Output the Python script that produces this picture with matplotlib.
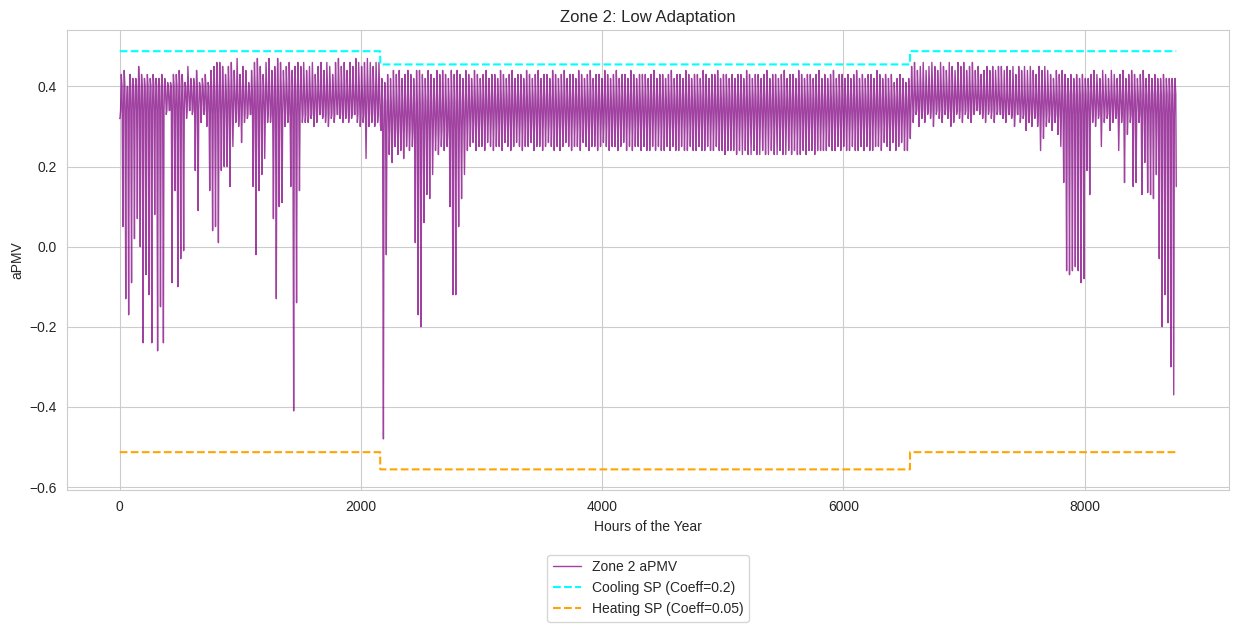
import numpy as np
import matplotlib
matplotlib.use("Agg")
import matplotlib.pyplot as plt
import seaborn as sns

# ---------------- Data ----------------
month_days = [31, 28, 31, 30, 31, 30, 31, 31, 30, 31, 30, 31]

# daily minimum of Zone 2 aPMV, one list per month
dip_jan = [0.32, 0.05, -0.13, -0.17, -0.09, 0.02, 0.07, 0.00, -0.24, -0.07, -0.12,
           -0.24, 0.08, -0.26, -0.15, -0.24, 0.33, 0.34, -0.09, 0.14, -0.10, -0.03,
           -0.01, 0.32, 0.34, 0.33, 0.19, 0.09, 0.31, 0.33, 0.30]
dip_feb = [0.14, 0.04, 0.05, 0.01, 0.19, 0.20, 0.20, 0.15, 0.25, 0.31, 0.30, 0.26,
           0.31, 0.32, 0.33, 0.15, -0.02, 0.14, 0.18, 0.22, 0.31, 0.31, 0.07, -0.13,
           0.10, 0.11, 0.30, 0.31]
dip_mar = [0.15, -0.41, -0.14, 0.14, 0.31, 0.31, 0.31, 0.32, 0.30, 0.31, 0.33, 0.32,
           0.31, 0.30, 0.32, 0.31, 0.33, 0.32, 0.31, 0.32, 0.31, 0.32, 0.33, 0.31,
           0.30, 0.31, 0.22, 0.30, 0.31, 0.30, 0.31]
dip_apr = [0.30, -0.48, -0.02, 0.23, 0.21, 0.25, 0.23, 0.24, 0.22, 0.25, 0.24, 0.25,
           0.01, -0.17, -0.20, 0.06, 0.13, 0.12, 0.18, 0.24, 0.23, 0.25, 0.24, 0.25,
           0.10, -0.12, -0.12, 0.05, 0.12, 0.18]
dip_may = [0.24, 0.25, 0.26, 0.24, 0.25, 0.25, 0.24, 0.26, 0.25, 0.24, 0.25, 0.25,
           0.24, 0.26, 0.25, 0.24, 0.25, 0.26, 0.25, 0.24, 0.25, 0.25, 0.26, 0.24,
           0.25, 0.25, 0.24, 0.25, 0.26, 0.25, 0.24]
dip_jun = [0.25, 0.24, 0.25, 0.26, 0.25, 0.24, 0.25, 0.25, 0.24, 0.26, 0.25, 0.24,
           0.25, 0.25, 0.24, 0.25, 0.26, 0.25, 0.24, 0.25, 0.25, 0.24, 0.25, 0.26,
           0.24, 0.25, 0.24, 0.25, 0.25, 0.24]
dip_jul = [0.25, 0.24, 0.24, 0.25, 0.24, 0.25, 0.24, 0.24, 0.25, 0.24, 0.25, 0.24,
           0.24, 0.25, 0.24, 0.24, 0.25, 0.24, 0.24, 0.25, 0.24, 0.24, 0.25, 0.24,
           0.24, 0.25, 0.24, 0.24, 0.23, 0.24, 0.24]
dip_aug = [0.24, 0.23, 0.24, 0.23, 0.24, 0.23, 0.23, 0.24, 0.23, 0.23, 0.24, 0.23,
           0.23, 0.24, 0.23, 0.23, 0.24, 0.23, 0.23, 0.24, 0.23, 0.24, 0.23, 0.23,
           0.24, 0.23, 0.24, 0.24, 0.23, 0.24, 0.24]
dip_sep = [0.24, 0.24, 0.25, 0.24, 0.24, 0.25, 0.24, 0.25, 0.24, 0.24, 0.25, 0.24,
           0.24, 0.25, 0.24, 0.25, 0.24, 0.24, 0.25, 0.25, 0.24, 0.26, 0.25, 0.24,
           0.26, 0.24, 0.25, 0.26, 0.24, 0.24]
dip_oct = [0.27, 0.31, 0.33, 0.30, 0.32, 0.31, 0.33, 0.32, 0.30, 0.33, 0.32, 0.31,
           0.33, 0.32, 0.30, 0.31, 0.33, 0.32, 0.31, 0.33, 0.32, 0.31, 0.33, 0.34,
           0.33, 0.32, 0.31, 0.33, 0.32, 0.31, 0.33]
dip_nov = [0.33, 0.32, 0.31, 0.33, 0.32, 0.30, 0.33, 0.31, 0.32, 0.29, 0.31, 0.30,
           0.32, 0.30, 0.24, 0.27, 0.30, 0.31, 0.29, 0.31, 0.28, 0.25, 0.16, -0.06,
           -0.07, -0.06, -0.05, -0.06, -0.09, -0.08]
dip_dec = [0.19, 0.13, 0.31, 0.30, 0.32, 0.25, 0.31, 0.32, 0.29, 0.31, 0.32, 0.24,
           0.31, 0.16, 0.28, 0.31, 0.15, 0.16, 0.31, 0.13, 0.21, 0.135, 0.13, 0.12,
           0.18, -0.03, -0.20, -0.12, -0.19, -0.30, -0.37]

# daily maximum of Zone 2 aPMV, one list per month
peak_jan = [0.43, 0.44, 0.40, 0.43, 0.42, 0.42, 0.45, 0.43, 0.42, 0.43, 0.42, 0.43,
            0.42, 0.42, 0.43, 0.42, 0.41, 0.41, 0.43, 0.43, 0.44, 0.43, 0.41, 0.45,
            0.42, 0.42, 0.44, 0.41, 0.42, 0.43, 0.41]
peak_feb = [0.44, 0.45, 0.46, 0.46, 0.45, 0.43, 0.45, 0.46, 0.44, 0.47, 0.43, 0.45,
            0.44, 0.41, 0.44, 0.46, 0.47, 0.45, 0.43, 0.46, 0.47, 0.44, 0.45, 0.47,
            0.46, 0.44, 0.45, 0.46]
peak_mar = [0.44, 0.45, 0.46, 0.45, 0.46, 0.44, 0.45, 0.46, 0.43, 0.45, 0.46, 0.44,
            0.46, 0.45, 0.43, 0.46, 0.47, 0.45, 0.46, 0.44, 0.46, 0.45, 0.47, 0.46,
            0.45, 0.46, 0.47, 0.46, 0.45, 0.46, 0.46]
peak_apr = [0.42, 0.41, 0.43, 0.42, 0.44, 0.43, 0.44, 0.42, 0.43, 0.44, 0.43, 0.42,
            0.44, 0.44, 0.43, 0.42, 0.44, 0.43, 0.42, 0.44, 0.43, 0.44, 0.43, 0.42,
            0.44, 0.43, 0.44, 0.43, 0.42, 0.44]
peak_may = [0.43, 0.42, 0.44, 0.43, 0.42, 0.43, 0.44, 0.42, 0.43, 0.43, 0.42, 0.44,
            0.43, 0.42, 0.43, 0.44, 0.42, 0.43, 0.43, 0.42, 0.44, 0.43, 0.42, 0.43,
            0.44, 0.42, 0.43, 0.43, 0.42, 0.44, 0.43]
peak_jun = [0.42, 0.43, 0.44, 0.42, 0.43, 0.43, 0.42, 0.44, 0.43, 0.42, 0.43, 0.44,
            0.42, 0.43, 0.43, 0.42, 0.44, 0.43, 0.42, 0.43, 0.44, 0.42, 0.43, 0.43,
            0.42, 0.44, 0.43, 0.42, 0.43, 0.43]
peak_jul = [0.43, 0.42, 0.43, 0.44, 0.42, 0.43, 0.43, 0.42, 0.43, 0.44, 0.42, 0.43,
            0.43, 0.42, 0.44, 0.43, 0.42, 0.43, 0.43, 0.42, 0.44, 0.43, 0.42, 0.43,
            0.43, 0.44, 0.42, 0.43, 0.43, 0.42, 0.43]
peak_aug = [0.42, 0.43, 0.43, 0.42, 0.44, 0.43, 0.42, 0.43, 0.43, 0.42, 0.43, 0.44,
            0.42, 0.43, 0.43, 0.42, 0.43, 0.44, 0.42, 0.43, 0.43, 0.42, 0.44, 0.43,
            0.42, 0.43, 0.43, 0.42, 0.43, 0.44, 0.42]
peak_sep = [0.43, 0.42, 0.43, 0.44, 0.42, 0.43, 0.43, 0.42, 0.43, 0.42, 0.43, 0.44,
            0.42, 0.43, 0.42, 0.43, 0.43, 0.42, 0.44, 0.43, 0.42, 0.43, 0.42, 0.43,
            0.41, 0.42, 0.43, 0.42, 0.41, 0.42]
peak_oct = [0.45, 0.46, 0.44, 0.45, 0.46, 0.44, 0.45, 0.46, 0.45, 0.44, 0.46, 0.45,
            0.44, 0.46, 0.45, 0.44, 0.46, 0.45, 0.46, 0.44, 0.45, 0.46, 0.44, 0.45,
            0.43, 0.44, 0.45, 0.44, 0.45, 0.44, 0.45]
peak_nov = [0.45, 0.44, 0.45, 0.44, 0.45, 0.43, 0.45, 0.44, 0.45, 0.44, 0.45, 0.44,
            0.43, 0.45, 0.44, 0.45, 0.44, 0.43, 0.42, 0.44, 0.43, 0.44, 0.43, 0.42,
            0.43, 0.42, 0.43, 0.42, 0.43, 0.42]
peak_dec = [0.42, 0.43, 0.44, 0.43, 0.42, 0.44, 0.43, 0.42, 0.44, 0.43, 0.42, 0.43,
            0.44, 0.42, 0.43, 0.44, 0.43, 0.42, 0.43, 0.44, 0.42, 0.43, 0.42, 0.43,
            0.42, 0.42, 0.43, 0.42, 0.42, 0.42, 0.42]

# dense middle band of the daily cycle, per month
band_hi = [0.40, 0.39, 0.39, 0.36, 0.37, 0.37, 0.37, 0.37, 0.37, 0.39, 0.38, 0.38]
band_lo = [0.34, 0.33, 0.33, 0.29, 0.31, 0.31, 0.31, 0.31, 0.31, 0.34, 0.33, 0.33]

start_value = 0.32
end_value = 0.15

# setpoints per month
cooling_sp = [0.488, 0.488, 0.488, 0.455, 0.455, 0.455,
              0.455, 0.455, 0.455, 0.488, 0.488, 0.488]
heating_sp = [-0.513, -0.513, -0.513, -0.556, -0.556, -0.556,
              -0.556, -0.556, -0.556, -0.513, -0.513, -0.513]

# ---------------- Build series ----------------
daily_dip = np.array(dip_jan + dip_feb + dip_mar + dip_apr + dip_may + dip_jun +
                     dip_jul + dip_aug + dip_sep + dip_oct + dip_nov + dip_dec)
daily_peak = np.array(peak_jan + peak_feb + peak_mar + peak_apr + peak_may + peak_jun +
                      peak_jul + peak_aug + peak_sep + peak_oct + peak_nov + peak_dec)
band_hi_daily = np.repeat(band_hi, month_days)
band_lo_daily = np.repeat(band_lo, month_days)

# each day: night low, band, afternoon peak, band
days = np.arange(len(daily_dip))
hours = np.column_stack([days * 24 + 2, days * 24 + 7,
                         days * 24 + 13, days * 24 + 19]).ravel()
apmv = np.column_stack([daily_dip, band_lo_daily,
                        daily_peak, band_hi_daily]).ravel()
hours = np.concatenate([[0], hours, [8759]])
apmv = np.concatenate([[start_value], apmv, [end_value]])

month_hours = np.array(month_days) * 24
hour_axis = np.arange(month_hours.sum())
cooling_hourly = np.repeat(cooling_sp, month_hours)
heating_hourly = np.repeat(heating_sp, month_hours)

# ---------------- Plot ----------------
sns.set_style("whitegrid")
plt.rcParams['font.family'] = ['Liberation Sans', 'DejaVu Sans']

fig, ax = plt.subplots(figsize=(12.39, 6.31), dpi=100)
fig.subplots_adjust(left=0.054, right=0.992, top=0.952, bottom=0.223)

ax.plot(hours, apmv, color='purple', linewidth=1.0, alpha=0.75, label='Zone 2 aPMV')
ax.plot(hour_axis, cooling_hourly, color='cyan', linestyle='--', linewidth=1.5,
        label='Cooling SP (Coeff=0.2)')
ax.plot(hour_axis, heating_hourly, color='orange', linestyle='--', linewidth=1.5,
        label='Heating SP (Coeff=0.05)')

ax.set_title('Zone 2: Low Adaptation')
ax.set_xlabel('Hours of the Year')
ax.set_ylabel('aPMV')
ax.legend(loc='upper center', bbox_to_anchor=(0.5, -0.125), ncol=1)

plt.savefig('out.png', dpi=100)
